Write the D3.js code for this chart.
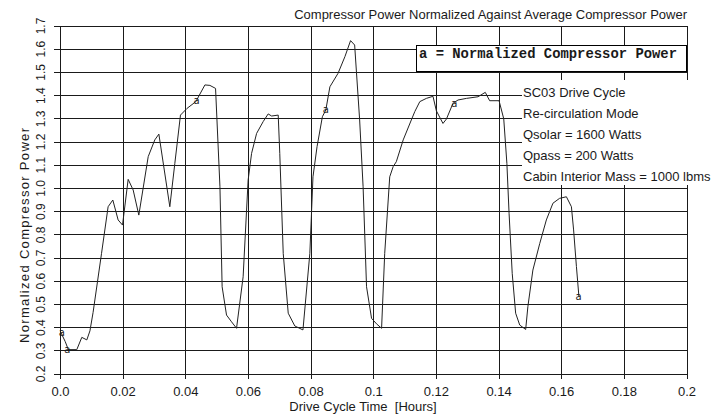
<!DOCTYPE html>
<html>
<head>
<meta charset="utf-8">
<script src="https://cdn.jsdelivr.net/npm/d3@7"></script>
<style>
  html, body { margin: 0; padding: 0; background: #fff; }
  svg { display: block; }
  text { font-family: "Liberation Sans", Arial, sans-serif; fill: #1a1a1a; white-space: pre; }
</style>
</head>
<body>
<div id="chart"></div>
<script>
// ---- data ----
const timeHours = [
  0.0000, 0.0015, 0.0025, 0.0052, 0.0068, 0.0084, 0.0094, 0.0104, 0.0131, 0.0152,
  0.0167, 0.0184, 0.0198, 0.0216, 0.0232, 0.0250, 0.0280, 0.0301, 0.0314, 0.0349,
  0.0365, 0.0383, 0.0404, 0.0432, 0.0461, 0.0477, 0.0495, 0.0509, 0.0516, 0.0530,
  0.0546, 0.0562, 0.0583, 0.0599, 0.0610, 0.0626, 0.0647, 0.0663, 0.0674, 0.0695,
  0.0700, 0.0711, 0.0727, 0.0748, 0.0774, 0.0796, 0.0806, 0.0819, 0.0836, 0.0847,
  0.0860, 0.0886, 0.0908, 0.0926, 0.0939, 0.0955, 0.0966, 0.0977, 0.0993, 0.1009,
  0.1025, 0.1035, 0.1051, 0.1062, 0.1072, 0.1094, 0.1120, 0.1131, 0.1147, 0.1168,
  0.1189, 0.1200, 0.1221, 0.1232, 0.1253, 0.1269, 0.1296, 0.1333, 0.1356, 0.1370,
  0.1400, 0.1415, 0.1425, 0.1432, 0.1442, 0.1453, 0.1466, 0.1485, 0.1492, 0.1508,
  0.1530, 0.1551, 0.1572, 0.1593, 0.1615, 0.1631, 0.1638, 0.1647, 0.1655
];
const normalizedPower = [
  0.382, 0.340, 0.305, 0.305, 0.358, 0.347, 0.386, 0.465, 0.720, 0.921,
  0.950, 0.864, 0.842, 1.039, 0.993, 0.885, 1.137, 1.209, 1.234, 0.921,
  1.108, 1.316, 1.345, 1.374, 1.446, 1.444, 1.431, 1.007, 0.576, 0.454,
  0.425, 0.397, 0.619, 1.036, 1.151, 1.237, 1.288, 1.321, 1.312, 1.316,
  1.151, 0.720, 0.462, 0.407, 0.390, 0.720, 1.050, 1.180, 1.309, 1.338,
  1.438, 1.496, 1.568, 1.637, 1.618, 1.295, 1.007, 0.576, 0.440, 0.416,
  0.397, 0.720, 1.050, 1.094, 1.115, 1.209, 1.295, 1.331, 1.374, 1.388,
  1.397, 1.334, 1.280, 1.299, 1.367, 1.381, 1.388, 1.395, 1.414, 1.378,
  1.378, 1.300, 1.108, 0.893, 0.634, 0.462, 0.411, 0.392, 0.490, 0.648,
  0.763, 0.864, 0.936, 0.957, 0.964, 0.921, 0.821, 0.663, 0.533
];
const markerTime = [0.0004, 0.0022, 0.0434, 0.0847, 0.1257, 0.1654];
const markerPower = [0.380, 0.306, 1.380, 1.338, 1.368, 0.532];

const xTicks = [0, 0.02, 0.04, 0.06, 0.08, 0.1, 0.12, 0.14, 0.16, 0.18, 0.2];
const xTickLabels = ["0.0", "0.02", "0.04", "0.06", "0.08", "0.1", "0.12", "0.14", "0.16", "0.18", "0.2"];
const yTicks = [0.2, 0.3, 0.4, 0.5, 0.6, 0.7, 0.8, 0.9, 1.0, 1.1, 1.2, 1.3, 1.4, 1.5, 1.6, 1.7];

const titleText = "Compressor Power Normalized Against Average Compressor Power";
const xLabel = "Drive Cycle Time  [Hours]";
const yLabel = "Normalized Compressor Power";
const legendText = "a = Normalized Compressor Power";
const notes = [
  "SC03 Drive Cycle",
  "Re-circulation Mode",
  "Qsolar = 1600 Watts",
  "Qpass = 200 Watts",
  "Cabin Interior Mass = 1000 lbms"
];

// ---- layout ----
const W = 725, H = 417;
const x = d3.scaleLinear().domain([0, 0.2]).range([60.5, 687]);
const y = d3.scaleLinear().domain([0.2, 1.7]).range([374, 26]);

const svg = d3.select("#chart").append("svg")
  .attr("width", W).attr("height", H);

// grid (horizontal lines extend left as ticks)
const grid = svg.append("g").attr("stroke", "#1a1a1a").attr("stroke-width", 1)
  .attr("shape-rendering", "crispEdges");
grid.selectAll("line.h").data(yTicks).join("line").attr("class", "h")
  .attr("x1", 54).attr("x2", x(0.2))
  .attr("y1", d => y(d)).attr("y2", d => y(d));
grid.selectAll("line.v").data(xTicks).join("line").attr("class", "v")
  .attr("x1", d => x(d)).attr("x2", d => x(d))
  .attr("y1", y(1.7)).attr("y2", y(0.2) + 5);

// curve
const pts = timeHours.map((t, i) => [t, normalizedPower[i]]);
const line = d3.line().x(d => x(d[0])).y(d => y(d[1]));
svg.append("path").datum(pts)
  .attr("d", line)
  .attr("fill", "none")
  .attr("stroke", "#222")
  .attr("stroke-width", 1);

// markers
svg.selectAll("text.mk").data(markerTime.map((t, i) => [t, markerPower[i]])).join("text")
  .attr("class", "mk")
  .attr("x", d => x(d[0]))
  .attr("y", d => y(d[1]) + 3.5)
  .attr("text-anchor", "middle")
  .style("font-family", "'DejaVu Sans', sans-serif")
  .style("font-size", "10px")
  .text("a");

// annotation block (white background hides grid)
svg.append("rect")
  .attr("x", 522).attr("y", 80).attr("width", W - 522).attr("height", 105)
  .attr("fill", "#fff");
svg.selectAll("text.note").data(notes).join("text")
  .attr("class", "note")
  .attr("x", 523)
  .attr("y", (d, i) => 97 + i * 21)
  .style("font-size", "13px")
  .text(d => d);

// legend box
svg.append("rect")
  .attr("x", 416.5).attr("y", 45.5).attr("width", 270).attr("height", 26)
  .attr("fill", "#fff").attr("stroke", "#000").attr("stroke-width", 1);
svg.append("text")
  .attr("x", 419).attr("y", 57.5)
  .style("font-family", "'Liberation Mono', 'DejaVu Sans Mono', monospace")
  .style("font-weight", "bold")
  .style("font-size", "14px")
  .attr("textLength", 258)
  .attr("lengthAdjust", "spacingAndGlyphs")
  .text(legendText);

// title
svg.append("text")
  .attr("x", 687).attr("y", 19)
  .attr("text-anchor", "end")
  .style("font-size", "13px")
  .text(titleText);

// x tick labels
svg.selectAll("text.xt").data(xTicks).join("text")
  .attr("class", "xt")
  .attr("x", d => x(d))
  .attr("y", 396)
  .attr("text-anchor", "middle")
  .style("font-size", "13px")
  .text((d, i) => xTickLabels[i]);

// x label
svg.append("text")
  .attr("x", 363).attr("y", 411)
  .attr("text-anchor", "middle")
  .style("font-size", "13px")
  .text(xLabel);

// y tick labels (rotated)
svg.selectAll("text.yt").data(yTicks).join("text")
  .attr("class", "yt")
  .attr("transform", d => `translate(45,${y(d)}) rotate(-90)`)
  .attr("text-anchor", "middle")
  .style("font-size", "12px")
  .text(d => d3.format(".1f")(d));

// y label
svg.append("text")
  .attr("transform", "translate(28.5,235.5) rotate(-90)")
  .attr("text-anchor", "middle")
  .style("font-size", "13px")
  .attr("textLength", 215)
  .attr("lengthAdjust", "spacing")
  .text(yLabel);
</script>
</body>
</html>
